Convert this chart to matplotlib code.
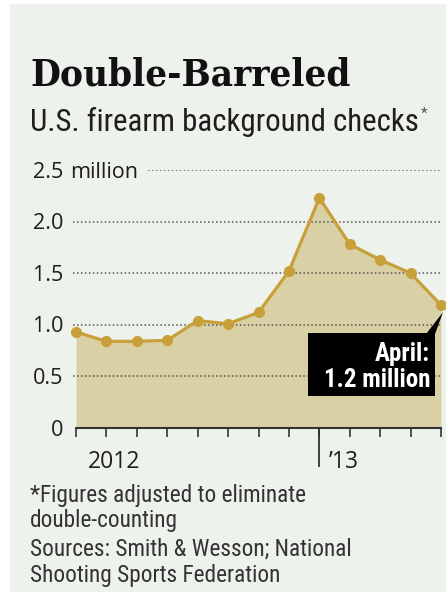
import os
import matplotlib
matplotlib.use('Agg')
import matplotlib.pyplot as plt
import matplotlib.transforms as mtrans
from matplotlib import font_manager as fm
from matplotlib.patches import Rectangle, Polygon

# ---------------- data ----------------
months = ['Apr 2012', 'May', 'Jun', 'Jul', 'Aug', 'Sep', 'Oct', 'Nov',
          'Dec', 'Jan 2013', 'Feb', 'Mar', 'Apr']
checks = [0.93, 0.84, 0.84, 0.85, 1.04, 1.01, 1.12, 1.52, 2.23, 1.78, 1.63, 1.50, 1.19]
y_ticks = [0, 0.5, 1.0, 1.5, 2.0, 2.5]
y_tick_labels = ['0', '0.5', '1.0', '1.5', '2.0', '2.5']
year_labels = ['2012', '\u201913']
year_break_index = 8

title = 'Double-Barreled'
subtitle = 'U.S. firearm background checks'
note_lines = ['*Figures adjusted to eliminate', 'double-counting']
source_lines = ['Sources: Smith & Wesson; National', 'Shooting Sports Federation']
callout = ['April:', '1.2 million']

# ---------------- style ----------------
BG = '#eef2ec'
FILL = '#d9d0a6'
GOLD = '#c8a03a'
INK = '#1f1d1d'
GRID = '#555555'

STRETCH = fm.stretch_dict
WEIGHT = fm.weight_dict


def _num(v, d, default):
    if isinstance(v, (int, float)):
        return v
    return d.get(v, default)


def pick_font(prefs, weight, stretch=300, exclude=('cjk', 'mono', 'symbol', 'math')):
    best = None
    for f in fm.fontManager.ttflist:
        fname = f.fname
        base = os.path.basename(fname).lower()
        if '[' in base or 'italic' in base or 'oblique' in base:
            continue
        if f.style != 'normal':
            continue
        name = f.name.lower()
        if any(e in name for e in exclude):
            continue
        rank = None
        for i, p in enumerate(prefs):
            if name.startswith(p):
                rank = i
                break
        if rank is None:
            continue
        st = _num(f.stretch, STRETCH, 500)
        if 'extracondensed' in base or 'extra condensed' in name:
            st = 200
        elif 'semicondensed' in base or 'semi condensed' in name:
            st = 400
        elif 'condensed' in base or 'narrow' in base or 'condensed' in name or 'narrow' in name:
            st = min(st, 300)
        w = _num(f.weight, WEIGHT, 400)
        score = abs(st - stretch) / 40.0 + rank * 0.5 + abs(w - weight) / 100.0
        if best is None or score < best[0]:
            best = (score, fname)
    return best[1] if best else None


SANS_PREFS = ['liberation sans narrow', 'roboto condensed', 'open sans condensed',
              'noto sans', 'dejavu sans', 'roboto', 'open sans', 'liberation sans']
sans_reg = pick_font(SANS_PREFS, 400)
sans_bold = pick_font(SANS_PREFS, 700)
wide_reg = pick_font(['open sans', 'noto sans', 'dejavu sans'], 400, stretch=500)
serif_bold = pick_font(['dejavu serif'], 800)


def fprop(path, size, family='DejaVu Sans', weight='normal'):
    if path:
        p = fm.FontProperties(fname=path)
    else:
        p = fm.FontProperties(family=family, weight=weight)
    p.set_size(size)
    return p


W, H = 446, 598
fig = plt.figure(figsize=(W / 100, H / 100), dpi=100)
fig.patch.set_facecolor('white')
PX = mtrans.Affine2D().scale(1.0 / W, -1.0 / H).translate(0, 1) + fig.transFigure

# panel background
fig.patches.append(Rectangle((10, 4), 436, 588, transform=PX, facecolor=BG,
                             edgecolor='none', zorder=-1))

# ---------------- axes ----------------
ax = fig.add_axes([73 / W, 1 - 428 / H, (441 - 73) / W, (428 - 170) / H])
ax.patch.set_visible(False)
x = list(range(len(checks)))
ax.set_xlim(-0.1, len(checks) - 1)
ax.set_ylim(y_ticks[0], y_ticks[-1])
for s in ('left', 'right', 'top'):
    ax.spines[s].set_visible(False)
ax.spines['bottom'].set_color('#333333')
ax.spines['bottom'].set_linewidth(1.5)
ax.spines['bottom'].set_bounds(0, len(checks) - 1)
ax.set_xticks(x)
ax.set_xticklabels([])
ax.set_yticks([])
ax.tick_params(axis='x', direction='out', length=6.5, width=1.2, color='#333333')

ax.fill_between(x, 0, checks, color=FILL, lw=0, zorder=1)
for v in y_ticks[1:]:
    xmin = 0 if v < y_ticks[-1] else (148 - 73) / (441 - 73)
    ax.axhline(v, xmin=xmin, xmax=1, color=GRID, lw=1.1, ls=(0, (1, 1.6)), zorder=2)
ax.plot(x, checks, color=GOLD, lw=2.3, marker='o', ms=7, zorder=4, clip_on=False)

# long year-break tick
yb = mtrans.blended_transform_factory(ax.transData, PX)
ax.plot([year_break_index, year_break_index], [428, 466], transform=yb,
        color='#333333', lw=1.3, clip_on=False, zorder=3)

# y tick labels
ylab_tr = mtrans.offset_copy(mtrans.blended_transform_factory(PX, ax.transData),
                             fig=fig, y=-7.5, units='dots')
tick_fp = fprop(wide_reg, 15.5)
for v, lab in zip(y_ticks, y_tick_labels):
    ax.text(63, v, lab, transform=ylab_tr, ha='right', va='baseline',
            fontproperties=tick_fp, color=INK, clip_on=False)
ax.text(70, y_ticks[-1], 'million', transform=ylab_tr, ha='left', va='baseline',
        fontproperties=tick_fp, color=INK, clip_on=False)

# year labels
yr_fp = fprop(wide_reg, 16.5)
fig.text(114, 468, year_labels[0], transform=PX, ha='center', va='baseline',
         fontproperties=yr_fp, color=INK)
fig.text(329, 468, year_labels[1], transform=PX, ha='left', va='baseline',
         fontproperties=yr_fp, color=INK)

# ---------------- callout ----------------
fig.patches.append(Rectangle((308, 333), 127, 63, transform=PX, facecolor='black',
                             edgecolor='none', zorder=5))
fig.canvas.draw()
xd, yd = ax.transData.transform((x[-1], checks[-1]))
px_x, px_y = xd, H - yd
fig.patches.append(Polygon([(426, 334), (435, 334), (px_x + 2, px_y + 7)],
                           closed=True, transform=PX, facecolor='black',
                           edgecolor='none', zorder=5))
c_fp = fprop(sans_bold, 17, weight='bold')
ct1 = fig.text(430, 361, callout[0], transform=PX, ha='right', va='baseline',
               fontproperties=c_fp, color='white', zorder=6)
ct2 = fig.text(430, 387, callout[1], transform=PX, ha='right', va='baseline',
               fontproperties=c_fp.copy(), color='white', zorder=6)

# ---------------- titles & notes ----------------
t_title = fig.text(30, 85, title, transform=PX, ha='left', va='baseline',
                   fontproperties=fprop(serif_bold, 30, family='DejaVu Serif', weight='bold'),
                   color='#111111')
t_sub = fig.text(30, 131, subtitle, transform=PX, ha='left', va='baseline',
                 fontproperties=fprop(sans_reg, 20), color=INK)
note_fp = fprop(sans_reg, 16)
notes = []
for yb_, line in zip([502, 527, 556, 582], note_lines + source_lines):
    notes.append(fig.text(30, yb_, line, transform=PX, ha='left', va='baseline',
                          fontproperties=note_fp.copy(), color='#333333'))


def fit(t, target_w, max_size=None):
    r = fig.canvas.get_renderer()
    w = t.get_window_extent(renderer=r).width
    s = t.get_fontsize() * target_w / w
    if max_size is not None:
        s = min(s, max_size)
    t.set_fontsize(s)


fig.canvas.draw()
fit(t_title, 320, 31)
fit(t_sub, 388, 23)
fit(ct2, 111, 18)
ct1.set_fontsize(ct2.get_fontsize())
fit(notes[2], 322, 17)
for n in notes:
    n.set_fontsize(notes[2].get_fontsize())

fig.canvas.draw()
r = fig.canvas.get_renderer()
sb = t_sub.get_window_extent(renderer=r)
fig.text(sb.x1 / W + 2 / W, 1 - 118 / H, '*', ha='left', va='baseline',
         fontproperties=fprop(sans_reg, 11), color='#555555')

fig.savefig('out.png', dpi=100, facecolor='white')
